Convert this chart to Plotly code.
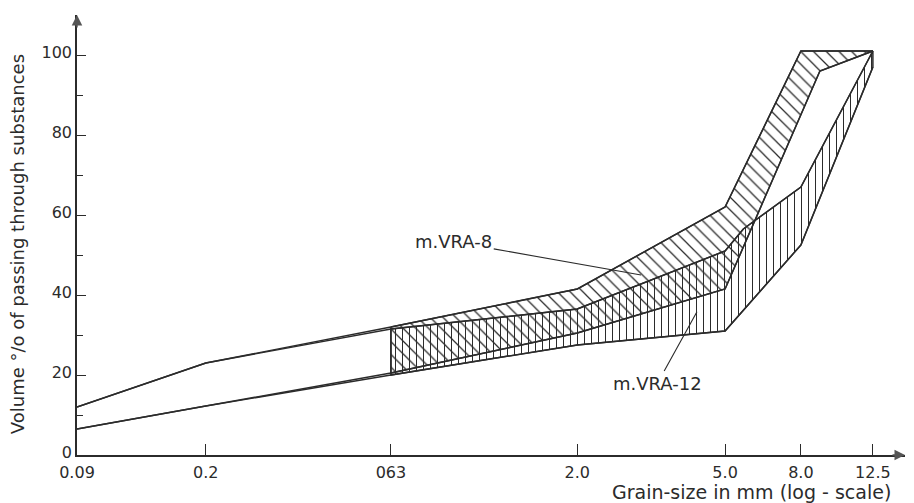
import math
import plotly.graph_objects as go

# ---- data ----
sieve_ticks = [0.09, 0.2, 0.63, 2.0, 5.0, 8.0, 12.5]
sieve_labels = ["0.09", "0.2", "063", "2.0", "5.0", "8.0", "12.5"]

vra8_upper_x = [0.09, 0.2, 0.63, 2.0, 5.0, 8.0, 12.5]
vra8_upper_y = [12, 23, 32, 41.5, 62, 101, 101]
vra8_lower_x = [0.09, 0.2, 0.63, 2.0, 5.0, 9.0, 12.5]
vra8_lower_y = [6.5, 12.25, 20.5, 30.5, 41.5, 96, 101]

vra12_upper_x = [0.09, 0.2, 0.63, 2.0, 5.0, 5.6, 8.0, 12.5]
vra12_upper_y = [12, 23, 31.5, 36.5, 51, 56.5, 67, 101]
vra12_lower_x = [0.09, 0.2, 0.63, 2.0, 5.0, 8.0, 12.5]
vra12_lower_y = [6.5, 12.25, 20, 27.5, 31, 52.5, 97]

hatch_start = 0.63  # hatched envelopes begin at this sieve size

INK = "#2b2b2b"
FONT = "DejaVu Sans"


def band(ux, uy, lx, ly):
    u = [(x, y) for x, y in zip(ux, uy) if x >= hatch_start]
    l = [(x, y) for x, y in zip(lx, ly) if x >= hatch_start]
    pts = u + l[::-1] + [u[0]]
    return [p[0] for p in pts], [p[1] for p in pts]


fig = go.Figure()

# hatched envelopes
bx, by = band(vra8_upper_x, vra8_upper_y, vra8_lower_x, vra8_lower_y)
fig.add_trace(go.Scatter(
    x=bx, y=by, mode="lines", fill="toself", name="m.VRA-8",
    line=dict(color=INK, width=1.5),
    fillcolor="rgba(0,0,0,0)",
    fillpattern=dict(shape="\\", size=9, solidity=0.14, fgcolor=INK,
                     bgcolor="rgba(0,0,0,0)", fillmode="replace"),
    hoverinfo="skip"))
bx, by = band(vra12_upper_x, vra12_upper_y, vra12_lower_x, vra12_lower_y)
fig.add_trace(go.Scatter(
    x=bx, y=by, mode="lines", fill="toself", name="m.VRA-12",
    line=dict(color=INK, width=1.5),
    fillcolor="rgba(0,0,0,0)",
    fillpattern=dict(shape="|", size=7, solidity=0.15, fgcolor=INK,
                     bgcolor="rgba(0,0,0,0)", fillmode="replace"),
    hoverinfo="skip"))

# full grading curves
for xs, ys in [(vra8_upper_x, vra8_upper_y), (vra8_lower_x, vra8_lower_y),
               (vra12_upper_x, vra12_upper_y), (vra12_lower_x, vra12_lower_y)]:
    fig.add_trace(go.Scatter(x=xs, y=ys, mode="lines",
                             line=dict(color=INK, width=1.4),
                             hoverinfo="skip"))

L = math.log10
x0 = L(0.09)
x1 = x0 + 827 / 371.0

annotations = [
    # labels with leader lines
    dict(text="m.VRA-8", x=L(2.97), y=45, ax=L(0.93), ay=53.3,
         xref="x", yref="y", axref="x", ayref="y",
         showarrow=True, arrowhead=0, arrowwidth=1.1, arrowcolor=INK,
         font=dict(family=FONT, size=18, color=INK)),
    dict(text="m.VRA-12", x=L(4.2), y=35.8, ax=L(3.29), ay=18,
         xref="x", yref="y", axref="x", ayref="y",
         showarrow=True, arrowhead=0, arrowwidth=1.1, arrowcolor=INK,
         font=dict(family=FONT, size=18, color=INK)),
    # axis arrowheads
    dict(text="", x=0, y=1, xref="paper", yref="paper", ax=0, ay=14,
         showarrow=True, arrowhead=2, arrowsize=1.5, arrowwidth=1.4,
         arrowcolor="#555"),
    dict(text="", x=1, y=0, xref="paper", yref="paper", ax=-14, ay=0,
         showarrow=True, arrowhead=2, arrowsize=1.5, arrowwidth=1.4,
         arrowcolor="#555"),
    # axis titles
    dict(text="Volume °/o of passing through substances", textangle=-90,
         x=-0.072, y=0.48, xref="paper", yref="paper", showarrow=False,
         xanchor="center", yanchor="middle",
         font=dict(family=FONT, size=18, color=INK)),
    dict(text="Grain-size in mm (log - scale)",
         x=0.815, y=-0.084, xref="paper", yref="paper", showarrow=False,
         xanchor="center", yanchor="middle",
         font=dict(family=FONT, size=19, color=INK)),
]

fig.update_layout(
    width=914, height=503,
    margin=dict(l=77, r=9, t=15, b=48),
    paper_bgcolor="white", plot_bgcolor="white",
    showlegend=False,
    annotations=annotations,
    font=dict(family=FONT, size=16, color=INK),
)
fig.update_xaxes(
    type="log", range=[x0, x1],
    tickvals=sieve_ticks, ticktext=sieve_labels,
    ticks="inside", ticklen=11, tickwidth=1.2, tickcolor=INK,
    showline=True, linecolor=INK, linewidth=1.5,
    showgrid=False, zeroline=False,
    ticklabelstandoff=2,
    tickfont=dict(family=FONT, size=16, color=INK),
)
fig.update_yaxes(
    range=[0, 110], tickvals=[0, 20, 40, 60, 80, 100],
    ticks="inside", ticklen=9, tickwidth=1.2, tickcolor=INK,
    minor=dict(tickvals=[10, 30, 50, 70, 90], ticks="inside", ticklen=6,
               tickcolor=INK, tickwidth=1.0),
    showline=True, linecolor=INK, linewidth=1.5,
    showgrid=False, zeroline=False,
    ticklabelshift=-3,
    tickfont=dict(family=FONT, size=16, color=INK),
)

fig.write_html("out.html")
